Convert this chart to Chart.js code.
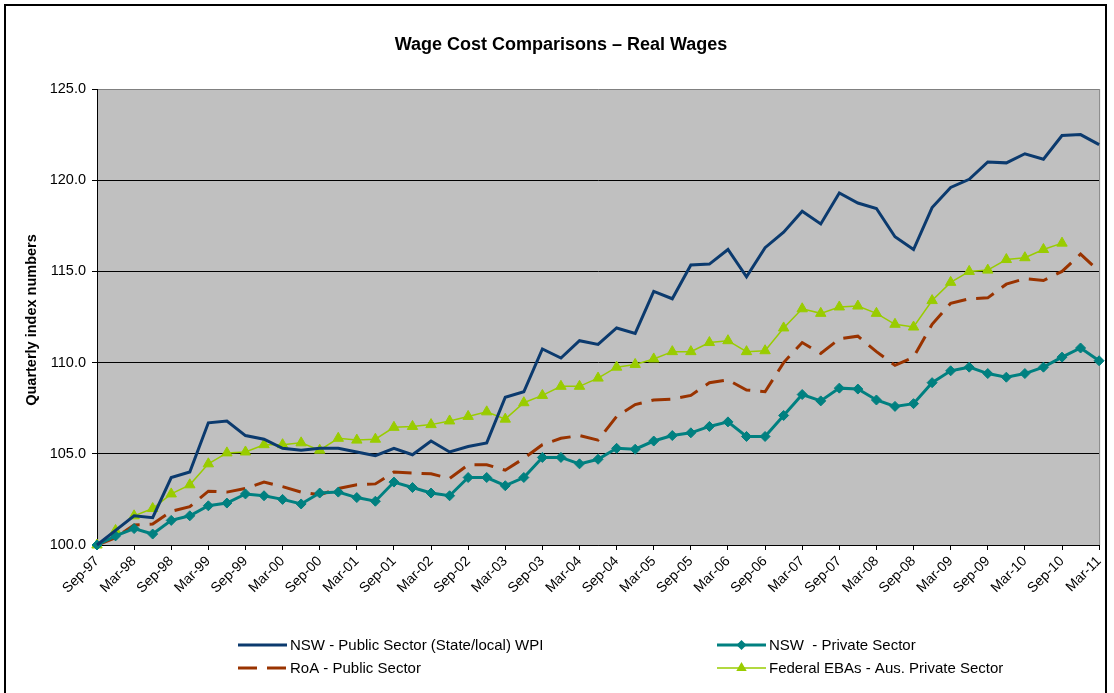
<!DOCTYPE html>
<html>
<head>
<meta charset="utf-8">
<title>Wage Cost Comparisons – Real Wages</title>
<script src="https://cdn.jsdelivr.net/npm/chart.js@4.4.1/dist/chart.umd.min.js"></script>
<style>
    html, body { margin: 0; padding: 0; background: #fff; }
    #wrap { width: 1114px; height: 693px; }
</style>
</head>
<body>
<div id="wrap"><canvas id="wageChart" width="1114" height="693"></canvas></div>
<script>
const quarters = [
    'Sep-97', 'Dec-97',
    'Mar-98', 'Jun-98', 'Sep-98', 'Dec-98',
    'Mar-99', 'Jun-99', 'Sep-99', 'Dec-99',
    'Mar-00', 'Jun-00', 'Sep-00', 'Dec-00',
    'Mar-01', 'Jun-01', 'Sep-01', 'Dec-01',
    'Mar-02', 'Jun-02', 'Sep-02', 'Dec-02',
    'Mar-03', 'Jun-03', 'Sep-03', 'Dec-03',
    'Mar-04', 'Jun-04', 'Sep-04', 'Dec-04',
    'Mar-05', 'Jun-05', 'Sep-05', 'Dec-05',
    'Mar-06', 'Jun-06', 'Sep-06', 'Dec-06',
    'Mar-07', 'Jun-07', 'Sep-07', 'Dec-07',
    'Mar-08', 'Jun-08', 'Sep-08', 'Dec-08',
    'Mar-09', 'Jun-09', 'Sep-09', 'Dec-09',
    'Mar-10', 'Jun-10', 'Sep-10', 'Dec-10',
    'Mar-11'
];

const nswPublic = [
    100.0, 100.8, 101.6, 101.5, 103.7, 104.0, 106.7, 106.8, 106.0, 105.8,
    105.3, 105.2, 105.3, 105.3, 105.1, 104.9, 105.3, 104.95, 105.7, 105.1,
    105.4, 105.6, 108.1, 108.4, 110.75, 110.25, 111.2, 111.0, 111.9, 111.6,
    113.9, 113.5, 115.35, 115.4, 116.2, 114.7, 116.3, 117.15, 118.3, 117.6,
    119.3, 118.75, 118.45, 116.9, 116.2, 118.5, 119.6, 120.05, 121.0, 120.95,
    121.45, 121.15, 122.45, 122.5, 121.95
];

const nswPrivate = [
    100.0, 100.5, 100.9, 100.6, 101.35, 101.6, 102.15, 102.3, 102.8, 102.7,
    102.5, 102.25, 102.85, 102.9, 102.6, 102.4, 103.45, 103.15, 102.85, 102.7,
    103.7, 103.7, 103.25, 103.7, 104.8, 104.8, 104.45, 104.7, 105.3, 105.25,
    105.7, 106.0, 106.15, 106.5, 106.75, 105.95, 105.95, 107.1, 108.25, 107.9,
    108.6, 108.55, 107.95, 107.6, 107.75, 108.9, 109.55, 109.75, 109.4, 109.2,
    109.4, 109.75, 110.3, 110.8, 110.1
];

const roaPublic = [
    100.0, 100.4, 101.1, 101.15, 101.85, 102.1, 102.95, 102.9, 103.1, 103.45,
    103.2, 102.9, 102.75, 103.1, 103.3, 103.35, 104.0, 103.95, 103.9, 103.65,
    104.4, 104.4, 104.1, 104.75, 105.5, 105.85, 106.0, 105.75, 107.05, 107.7,
    107.95, 108.0, 108.2, 108.9, 109.05, 108.5, 108.4, 110.0, 111.1, 110.5,
    111.3, 111.45, 110.6, 109.85, 110.3, 112.1, 113.25, 113.5, 113.55, 114.3,
    114.6, 114.5, 115.0, 115.95, 115.0
];

const federalEbas = [
    100.0, 100.8, 101.6, 102.0, 102.8, 103.3, 104.45, 105.05, 105.1, 105.5,
    105.5, 105.6, 105.2, 105.85, 105.75, 105.8, 106.45, 106.5, 106.6, 106.8,
    107.05, 107.3, 106.9, 107.8, 108.2, 108.7, 108.7, 109.15, 109.75, 109.9,
    110.2, 110.6, 110.6, 111.1, 111.2, 110.6, 110.65, 111.9, 112.95, 112.7,
    113.05, 113.1, 112.7, 112.1, 111.95, 113.4, 114.4, 115.0, 115.07, 115.65,
    115.75, 116.2, 116.55, null, null
];

const FONT = '"Liberation Sans", Arial, sans-serif';

// plot background, outer frame, title, y title and the two-column legend
const decorPlugin = {
    id: 'decor',
    beforeDraw(chart) {
        const { ctx, chartArea: a } = chart;
        ctx.save();
        ctx.fillStyle = '#ffffff';
        ctx.fillRect(0, 0, chart.width, chart.height);
        ctx.fillStyle = '#c0c0c0';
        ctx.fillRect(a.left, a.top, a.right - a.left, a.bottom - a.top);
        ctx.restore();
    },
    beforeDatasetsDraw(chart) {
        const { ctx, chartArea: a } = chart;
        ctx.save();
        ctx.strokeStyle = '#808080';
        ctx.lineWidth = 1;
        ctx.beginPath();
        ctx.moveTo(a.right + 0.5, a.top);
        ctx.lineTo(a.right + 0.5, a.bottom);
        ctx.stroke();
        ctx.restore();
    },
    afterDraw(chart) {
        const ctx = chart.ctx;
        ctx.save();

        // outer frame (no bottom edge visible)
        ctx.strokeStyle = '#000';
        ctx.lineWidth = 2;
        ctx.beginPath();
        ctx.moveTo(5, chart.height + 5);
        ctx.lineTo(5, 5);
        ctx.lineTo(1106, 5);
        ctx.lineTo(1106, chart.height + 5);
        ctx.stroke();

        ctx.fillStyle = '#000';
        ctx.font = 'bold 18px ' + FONT;
        ctx.textAlign = 'center';
        ctx.textBaseline = 'middle';
        ctx.fillText('Wage Cost Comparisons \u2013 Real Wages', 561, 45);

        ctx.save();
        ctx.translate(32, 320);
        ctx.rotate(-Math.PI / 2);
        ctx.font = 'bold 14.5px ' + FONT;
        ctx.fillText('Quarterly index numbers', 0, 0);
        ctx.restore();

        const slots = [[238, 645], [717, 645], [238, 668], [717, 668]];
        ctx.font = '15px ' + FONT;
        ctx.textAlign = 'left';
        chart.data.datasets.forEach((ds, k) => {
            const [x, y] = slots[k];
            ctx.strokeStyle = ds.borderColor;
            ctx.lineWidth = ds.borderWidth;
            ctx.setLineDash(ds.borderDash || []);
            ctx.beginPath();
            ctx.moveTo(x, y);
            ctx.lineTo(x + 49, y);
            ctx.stroke();
            ctx.setLineDash([]);
            if (ds.pointRadius > 0) {
                const cx = x + 24.5, r = ds.pointRadius;
                ctx.fillStyle = ds.pointBackgroundColor;
                ctx.beginPath();
                if (ds.pointStyle === 'rectRot') {
                    ctx.moveTo(cx, y - r);
                    ctx.lineTo(cx + r, y);
                    ctx.lineTo(cx, y + r);
                    ctx.lineTo(cx - r, y);
                } else {
                    ctx.moveTo(cx, y - r);
                    ctx.lineTo(cx + r * 0.87, y + r * 0.5);
                    ctx.lineTo(cx - r * 0.87, y + r * 0.5);
                }
                ctx.closePath();
                ctx.fill();
            }
            ctx.fillStyle = '#000';
            ctx.fillText(ds.label, x + 52, y + 1);
        });
        ctx.restore();
    }
};

new Chart(document.getElementById('wageChart'), {
    type: 'line',
    data: {
        labels: quarters,
        datasets: [
            {
                label: 'NSW - Public Sector (State/local) WPI',
                data: nswPublic,
                borderColor: '#0b3a6e',
                borderWidth: 3,
                pointRadius: 0,
                tension: 0,
                clip: false
            },
            {
                label: 'NSW  - Private Sector',
                data: nswPrivate,
                borderColor: '#008080',
                borderWidth: 3,
                pointStyle: 'rectRot',
                pointRadius: 5,
                pointBackgroundColor: '#008080',
                pointBorderColor: '#008080',
                pointBorderWidth: 1,
                tension: 0,
                clip: false
            },
            {
                label: 'RoA - Public Sector',
                data: roaPublic,
                borderColor: '#993300',
                borderWidth: 3,
                borderDash: [19, 10],
                pointRadius: 0,
                tension: 0,
                clip: false
            },
            {
                label: 'Federal EBAs - Aus. Private Sector',
                data: federalEbas,
                borderColor: '#99cc00',
                borderWidth: 1.5,
                pointStyle: 'triangle',
                pointRadius: 6,
                pointBackgroundColor: '#99cc00',
                pointBorderColor: '#99cc00',
                pointBorderWidth: 1,
                tension: 0,
                spanGaps: false,
                clip: false
            }
        ]
    },
    options: {
        responsive: false,
        animation: false,
        devicePixelRatio: 1,
        layout: {
            padding: { top: 89, right: 13, bottom: 0, left: 0 }
        },
        plugins: {
            legend: { display: false },
            title: { display: false },
            tooltip: { enabled: false }
        },
        scales: {
            x: {
                type: 'category',
                offset: false,
                afterFit: (s) => { s.height = 148; },
                border: { color: '#000', width: 1 },
                grid: {
                    drawOnChartArea: false,
                    tickLength: 5,
                    tickColor: '#000'
                },
                ticks: {
                    autoSkip: false,
                    maxRotation: 45,
                    minRotation: 45,
                    padding: 3,
                    color: '#000',
                    font: { family: FONT, size: 14 },
                    callback: function (val, index) {
                        return index % 2 === 0 ? this.getLabelForValue(val) : null;
                    }
                }
            },
            y: {
                min: 100,
                max: 125,
                afterFit: (s) => { s.width = 97; },
                border: { color: '#000', width: 1 },
                grid: {
                    color: (c) => (c.tick && c.tick.value === 125 ? '#808080' : '#000'),
                    lineWidth: 1,
                    tickLength: 5,
                    tickColor: '#000'
                },
                ticks: {
                    stepSize: 5,
                    padding: 6,
                    color: '#000',
                    font: { family: FONT, size: 14.5 },
                    callback: (v) => v.toFixed(1)
                }
            }
        }
    },
    plugins: [decorPlugin]
});
</script>
</body>
</html>
